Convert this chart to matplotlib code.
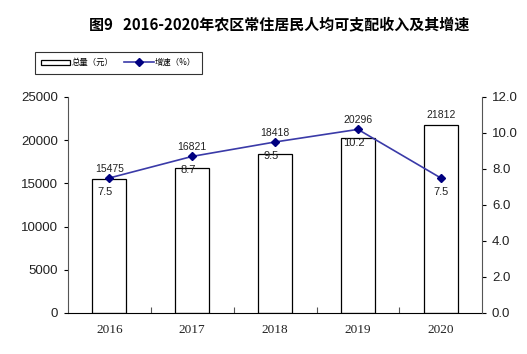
import matplotlib
matplotlib.use("Agg")
import matplotlib.pyplot as plt
from matplotlib.ticker import FixedLocator, FormatStrFormatter

plt.rcParams['font.family'] = ['Liberation Sans', 'Noto Sans CJK SC', 'DejaVu Sans']

years = ['2016', '2017', '2018', '2019', '2020']
income = [15475, 16821, 18418, 20296, 21812]
growth = [7.5, 8.7, 9.5, 10.2, 7.5]

fig = plt.figure(figsize=(5.27, 3.54), dpi=100)
ax = fig.add_axes([0.129, 0.116, 0.786, 0.61])
ax2 = ax.twinx()

x = list(range(len(years)))
bars = ax.bar(x, income, width=0.41, facecolor='white', edgecolor='black', linewidth=0.9, label='总量（元）', zorder=2)
line, = ax2.plot(x, growth, color='#3a3aa8', linewidth=1.2, marker='D', markersize=4.5,
                 markerfacecolor='#000080', markeredgecolor='#000080', label='增速（%）', zorder=3)

ax.set_xlim(-0.5, 4.5)
ax.set_ylim(0, 25000)
ax2.set_ylim(0, 12)
ax.set_yticks(range(0, 25001, 5000))
ax2.set_yticks([0, 2, 4, 6, 8, 10, 12])
ax2.yaxis.set_major_formatter(FormatStrFormatter('%.1f'))
ax.set_xticks(x)
ax.set_xticklabels(years, family=['Liberation Serif', 'DejaVu Serif'], fontsize=9.5, color='#222222')
ax.xaxis.set_minor_locator(FixedLocator([0.5, 1.5, 2.5, 3.5]))
ax.tick_params(axis='x', which='major', length=0, pad=8)
ax.tick_params(axis='x', which='minor', direction='in', length=4, width=0.8, color='#555555')
ax.tick_params(axis='y', direction='out', length=3, labelsize=9.5, pad=4, labelcolor='#222222')
ax2.tick_params(axis='y', direction='out', length=3, labelsize=9.5, pad=4, labelcolor='#222222')

for a in (ax, ax2):
    a.spines['top'].set_visible(False)
    for s in ('left', 'right', 'bottom'):
        a.spines[s].set_linewidth(0.8)
ax.spines['left'].set_color('#555555')
ax2.spines['right'].set_color('#555555')
ax2.spines['left'].set_visible(False)
ax2.spines['bottom'].set_visible(False)
ax.spines['right'].set_visible(False)

for i, (v, g) in enumerate(zip(income, growth)):
    gy = g / 12 * 25000
    top = max(v, gy)
    ax.annotate(str(v), (i, top), xytext=(0, 3), textcoords='offset points',
                ha='center', va='bottom', fontsize=7.5, color='#222222', zorder=5)
    ax2.annotate(f'{g:.1f}', (i, g), xytext=(-3 if i < 4 else 0, -6.5), textcoords='offset points',
                 ha='center', va='top', fontsize=8, color='#222222', zorder=5)

fig.text(0.53, 0.93, '图9   2016-2020年农区常住居民人均可支配收入及其增速', ha='center', va='center',
         fontsize=10.8, fontweight='bold', family=['Noto Sans CJK SC', 'DejaVu Sans'])

leg = fig.legend([bars, line], ['总量（元）', '增速（%）'], loc='upper left',
                 bbox_to_anchor=(35 / 527, 1 - 52 / 354), borderaxespad=0, ncol=2,
                 frameon=True, fancybox=False, borderpad=0.75, handlelength=3.5,
                 handleheight=0.6, columnspacing=1.3, handletextpad=0.15,
                 prop={'family': ['Noto Sans CJK SC', 'DejaVu Sans'], 'size': 6})
leg.get_frame().set_edgecolor('black')
leg.get_frame().set_linewidth(0.8)

fig.savefig('out.png', dpi=100)
